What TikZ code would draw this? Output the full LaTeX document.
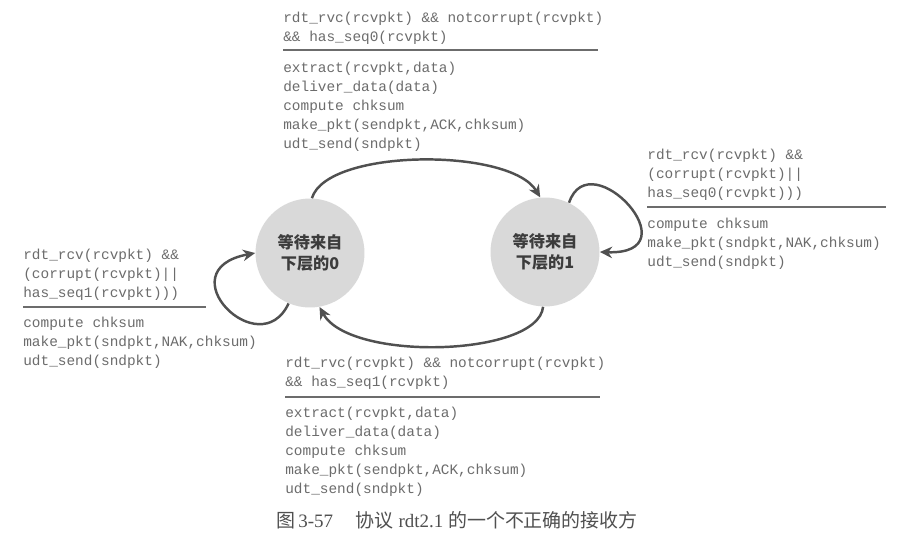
\documentclass[tikz,border=0pt]{standalone}
\usepackage{fontspec}
\setmainfont{Liberation Serif}
\newfontfamily\codefont{Liberation Mono}
\newfontfamily\cjk{Noto Sans CJK SC}
\usetikzlibrary{positioning,arrows.meta}
\definecolor{codegray}{HTML}{6C6C6C}
\definecolor{linegray}{HTML}{505050}
\definecolor{stategray}{HTML}{D9D9D9}
\definecolor{statetext}{HTML}{3C3C3C}
\tikzstyle{StateNode}=[circle, fill=stategray, minimum size=2.18cm, inner sep=0pt, align=center, text=statetext, font=\cjk\bfseries\fontsize{9.2}{12}\selectfont]
\tikzstyle{CodeNode}=[inner sep=0pt, anchor=base west, align=left, text=codegray, font=\codefont\fontsize{8.2}{10.8}\selectfont]
\tikzstyle{TransLine}=[draw=linegray, line width=1.4pt, -{Stealth[length=7pt,width=6.5pt]}]
\tikzstyle{RuleLine}=[draw=codegray, line width=0.6pt]

\begin{document}
\begin{tikzpicture}[x=0.02cm, y=-0.02cm]
    \fill[white] (0,0) rectangle (909,545);
    \useasboundingbox (0,0) rectangle (909,545);

    % states
    \node (state0) [StateNode] at (310,253) {等待来自\\下层的0};
    \node (state1) [StateNode] at (545,252) {等待来自\\下层的1};

    % transition labels (placed at the baseline of their last line)
    \node (cond0to1) [CodeNode] at (283,41) {rdt\_rvc(rcvpkt) \&\& notcorrupt(rcvpkt)\\\&\& has\_seq0(rcvpkt)};
    \draw [RuleLine] (283,50) -- (598,50);
    \node (act0to1) [CodeNode] at (283,148) {extract(rcvpkt,data)\\deliver\_data(data)\\compute chksum\\make\_pkt(sendpkt,ACK,chksum)\\udt\_send(sndpkt)};

    \node (cond1to1) [CodeNode] at (647,197) {rdt\_rcv(rcvpkt) \&\&\\(corrupt(rcvpkt)||\\has\_seq0(rcvpkt)))};
    \draw [RuleLine] (647,207) -- (886,207);
    \node (act1to1) [CodeNode] at (647,266) {compute chksum\\make\_pkt(sndpkt,NAK,chksum)\\udt\_send(sndpkt)};

    \node (cond0to0) [CodeNode] at (23,297) {rdt\_rcv(rcvpkt) \&\&\\(corrupt(rcvpkt)||\\has\_seq1(rcvpkt)))};
    \draw [RuleLine] (23,307) -- (206,307);
    \node (act0to0) [CodeNode] at (23,365) {compute chksum\\make\_pkt(sndpkt,NAK,chksum)\\udt\_send(sndpkt)};

    \node (cond1to0) [CodeNode] at (285,386) {rdt\_rvc(rcvpkt) \&\& notcorrupt(rcvpkt)\\\&\& has\_seq1(rcvpkt)};
    \draw [RuleLine] (285,397) -- (600,397);
    \node (act1to0) [CodeNode] at (285,493) {extract(rcvpkt,data)\\deliver\_data(data)\\compute chksum\\make\_pkt(sendpkt,ACK,chksum)\\udt\_send(sndpkt)};

    % caption
    \node (caption) [anchor=base, inner sep=0pt, text=linegray, font=\fontsize{10.8}{13}\selectfont] at (457,527) {{\cjk 图}\,3-57\hspace{1.2em}{\cjk 协议} rdt2.1 {\cjk 的一个不正确的接收方}};

    % transitions
    \draw [TransLine] (state0.88) .. controls +(15,-50) and +(-30,-50) .. (state1.95);
    \draw [TransLine] (state1.268) .. controls +(-5,50) and +(30,55) .. (state0.280);
    \draw [TransLine] (state0.247) .. controls +(-29,62) and +(-90,17) .. (state0.180);
    \draw [TransLine] (state1.64) .. controls +(21,-62) and +(95,3) .. (state1.0);
\end{tikzpicture}
\end{document}
